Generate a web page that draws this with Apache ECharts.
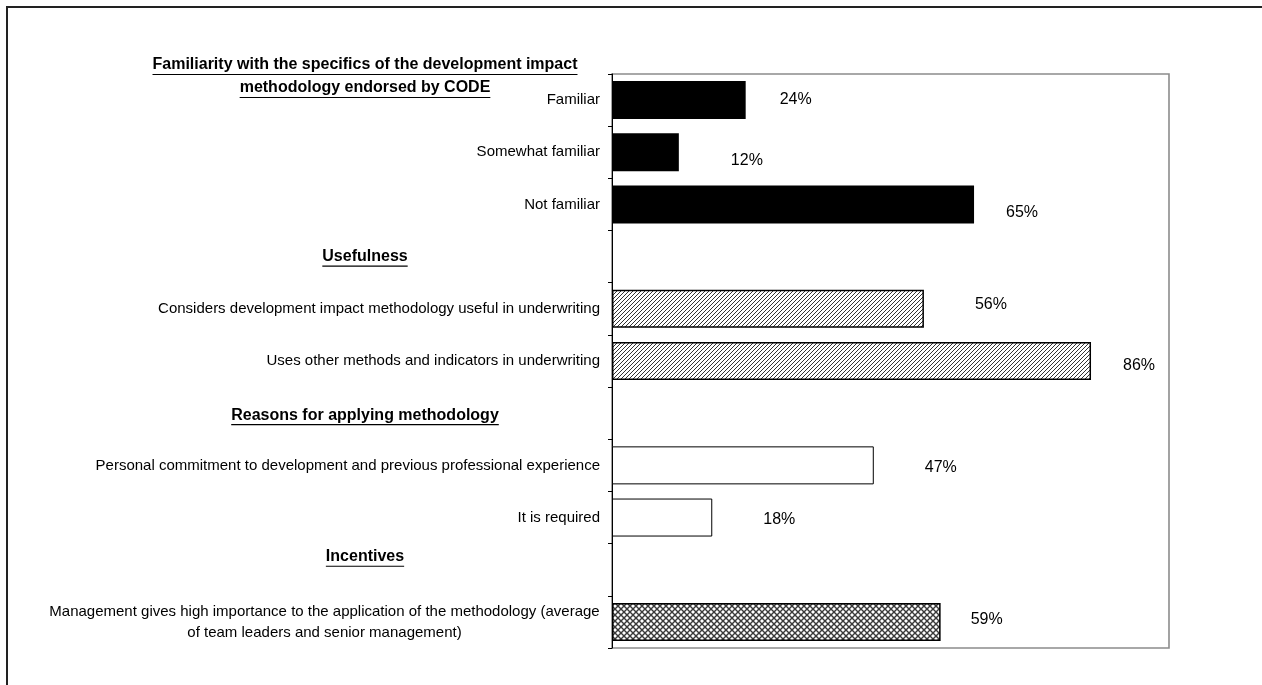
<!DOCTYPE html>
<html>
<head>
<meta charset="utf-8">
<script src="https://cdn.jsdelivr.net/npm/echarts@6/dist/echarts.min.js"></script>
<style>
  html, body { margin: 0; padding: 0; background: #fff; }
  #chart { width: 1262px; height: 685px; }
</style>
</head>
<body>
<div id="chart"></div>
<script>
// ---- data ----
const categories = [
  'Familiar',
  'Somewhat familiar',
  'Not familiar',
  '',
  'Considers development impact methodology useful in underwriting',
  'Uses other methods and indicators in underwriting',
  '',
  'Personal commitment to development and previous professional experience',
  'It is required',
  '',
  'Management gives high importance to the application of the methodology (average\nof team leaders and senior management)'
];
const values = [24, 12, 65, null, 56, 86, null, 47, 18, null, 59];
const groups = ['familiarity', 'familiarity', 'familiarity', null,
                'usefulness', 'usefulness', null,
                'reasons', 'reasons', null,
                'incentives'];
const sectionTitles = ['Usefulness', 'Reasons for applying methodology', 'Incentives'];
const sectionRows = [3, 6, 9];
const topTitle = ['Familiarity with the specifics of the development impact',
                  'methodology endorsed by CODE'];

// ---- styling ----
const FONT = '"Liberation Sans", Arial, Helvetica, sans-serif';
const LABEL_SIZE = 15;
const HEAD_SIZE = 16;
const labelGap   = [34, 52, 32, 0, 51, 32, 0, 51, 51, 0, 30];
const labelShift = [0, 8, 8, 0, -4, 5, 0, 2, 2, 0, -2];
const sectionShift = [0, 2, -13];

function makePattern(size, draw) {
  const c = document.createElement('canvas');
  c.width = c.height = size;
  const ctx = c.getContext('2d');
  ctx.fillStyle = '#fff';
  ctx.fillRect(0, 0, size, size);
  draw(ctx, size);
  return { image: c, repeat: 'repeat' };
}
// diagonal hatch for the usefulness bars
const hatch = makePattern(8, (ctx, s) => {
  ctx.strokeStyle = '#333';
  ctx.lineWidth = 1;
  for (let x = -s; x <= s; x += 4) {
    ctx.beginPath(); ctx.moveTo(x, s); ctx.lineTo(x + s, 0); ctx.stroke();
  }
});
// diamond cross-hatch for the incentives bar
const cross = makePattern(6, (ctx, s) => {
  ctx.strokeStyle = '#3a3a3a';
  ctx.lineWidth = 1.4;
  for (let x = -s; x <= s; x += s) {
    ctx.beginPath(); ctx.moveTo(x, s); ctx.lineTo(x + s, 0); ctx.stroke();
    ctx.beginPath(); ctx.moveTo(x, 0); ctx.lineTo(x + s, s); ctx.stroke();
  }
});
const groupStyle = {
  familiarity: { color: '#000', borderColor: '#000', borderWidth: 0 },
  usefulness:  { color: hatch, borderColor: '#000', borderWidth: 1.5 },
  reasons:     { color: '#fff', borderColor: '#000', borderWidth: 1 },
  incentives:  { color: cross, borderColor: '#000', borderWidth: 1.5 }
};

const measureCtx = document.createElement('canvas').getContext('2d');
function textWidth(str, font) {
  measureCtx.font = font;
  return measureCtx.measureText(str).width;
}

const chart = echarts.init(document.getElementById('chart'), null, { renderer: 'canvas' });

chart.setOption({
  backgroundColor: '#fff',
  animation: false,
  textStyle: { fontFamily: FONT },
  grid: {
    left: 612, right: 93, top: 74, bottom: 37,
    show: true, borderColor: '#8c8c8c', borderWidth: 1.6, backgroundColor: '#fff'
  },
  xAxis: {
    type: 'value', min: 0, max: 100,
    axisLine: { show: false }, axisTick: { show: false },
    axisLabel: { show: false }, splitLine: { show: false }
  },
  yAxis: {
    type: 'category',
    inverse: true,
    data: categories,
    axisLine: { show: true, lineStyle: { color: '#000', width: 1 } },
    axisTick: { show: true, length: 4, lineStyle: { color: '#000' } },
    axisLabel: {
      margin: 12, color: '#000', fontSize: LABEL_SIZE, fontFamily: FONT,
      formatter: function (v) {
        if (v.indexOf('\n') < 0) return v;
        return v.split('\n').map(l => '{m|' + l + '}').join('\n');
      },
      rich: (function () {
        // two-line labels: lines centred on each other, block right-aligned
        const lines = categories.filter(c => c.indexOf('\n') >= 0)
          .flatMap(c => c.split('\n'));
        const w = Math.max(...lines.map(l => textWidth(l, LABEL_SIZE + 'px ' + FONT)));
        return { m: { width: Math.ceil(w), align: 'center', fontSize: LABEL_SIZE,
                      lineHeight: 21, color: '#000', fontFamily: FONT } };
      })()
    }
  },
  series: [{
    type: 'bar',
    barWidth: 38,
    data: values.map((v, i) => v == null ? '-' : {
      value: v,
      itemStyle: groupStyle[groups[i]],
      label: { distance: labelGap[i], offset: [0, labelShift[i]] }
    }),
    label: {
      show: true, position: 'right', formatter: '{c}%',
      fontSize: 16, color: '#000', fontFamily: FONT
    }
  }]
});

// section headings, placed on their category rows
const CX = 365;
const headFont = 'bold ' + HEAD_SIZE + 'px ' + FONT;
const graphics = [{
  type: 'rect', silent: true, z: 100,
  shape: { x: 7, y: 7, width: 1300, height: 700 },
  style: { fill: null, stroke: '#222', lineWidth: 2 }
}];
function addHeading(text, y) {
  const w = textWidth(text, headFont);
  graphics.push({
    type: 'text', silent: true, z: 100,
    style: { text: text, x: CX, y: y, align: 'center', verticalAlign: 'middle',
             fontSize: HEAD_SIZE, fontWeight: 'bold', fontFamily: FONT, fill: '#000' }
  });
  graphics.push({
    type: 'line', silent: true, z: 100,
    shape: { x1: CX - w / 2, y1: y + 9.5, x2: CX + w / 2, y2: y + 9.5 },
    style: { stroke: '#000', lineWidth: 1.2 }
  });
}
addHeading(topTitle[0], 65);
addHeading(topTitle[1], 88);
sectionTitles.forEach((t, k) => {
  const y = chart.convertToPixel({ yAxisIndex: 0 }, sectionRows[k]);
  addHeading(t, y + sectionShift[k]);
});
chart.setOption({ graphic: graphics });
</script>
</body>
</html>
